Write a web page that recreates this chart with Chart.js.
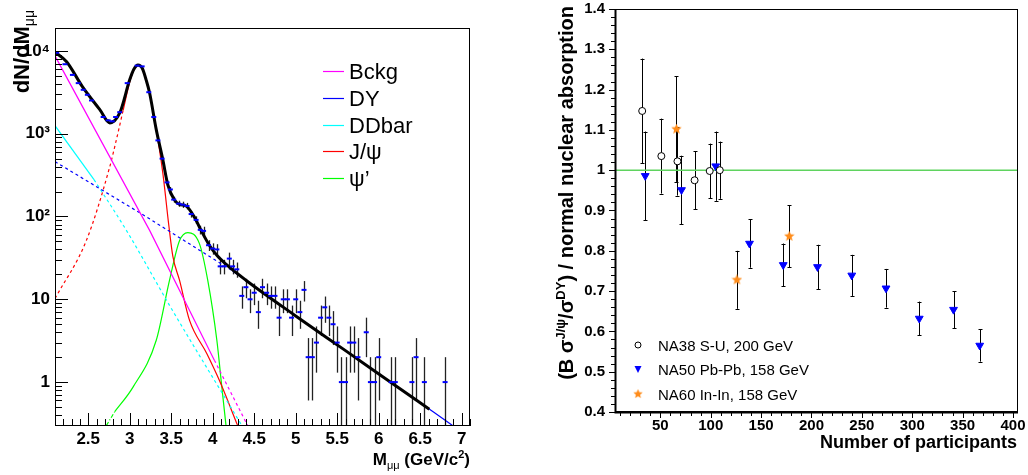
<!DOCTYPE html>
<html>
<head>
<meta charset="utf-8">
<script src="https://cdn.jsdelivr.net/npm/chart.js@4.4.1/dist/chart.umd.min.js"></script>
<style>
  html, body { margin: 0; padding: 0; background: #fff; }
  #wrap { position: relative; width: 1028px; height: 475px; }
  canvas { position: absolute; top: 0; display: block; }
  #massChart { left: 0; }
  #ratioChart { left: 520px; }
</style>
</head>
<body>
<div id="wrap">
  <canvas id="massChart" width="480" height="475"></canvas>
  <canvas id="ratioChart" width="508" height="475"></canvas>
</div>
<script>
// ---------- Left panel: dimuon mass spectrum ----------
const massX = [2.12, 2.22, 2.31, 2.38, 2.44, 2.49, 2.54, 2.68, 2.74, 2.79, 2.83, 2.88,
  2.97, 3.09, 3.15, 3.23, 3.29, 3.34, 3.39, 3.45, 3.49, 3.53, 3.59, 3.64, 3.69, 3.74,
  3.80, 3.85, 3.89, 3.95, 4.00, 4.05, 4.09, 4.14, 4.20, 4.24, 4.29, 4.35, 4.40, 4.45,
  4.50, 4.55, 4.60, 4.65, 4.70, 4.75, 4.80, 4.85, 4.90, 4.95, 5.00, 5.05, 5.10, 5.15,
  5.20, 5.25, 5.30, 5.35, 5.40, 5.45, 5.50, 5.55, 5.60, 5.65, 5.70, 5.75, 5.85, 5.90,
  5.95, 6.00, 6.15, 6.20, 6.40, 6.45, 6.55, 6.80];
const massY = [9500, 6900, 5130, 4080, 3390, 2950, 2520, 1590, 1450, 1410, 1590, 1820,
  4080, 6640, 6500, 3170, 1590, 830, 500, 258, 212, 160, 143, 139, 134, 107,
  91, 69, 67, 45, 41, 40, 25, 25, 31, 25, 23, 11, 14, 10,
  12, 7, 14, 12, 11, 11, 6, 10, 10, 6, 10, 7, 13, 2,
  2, 3, 6, 8, 6, 5, 3, 1, 1, 3, 3, 2, 4, 1,
  1, 2, 1, 1, 1, 2, 1, 1];
const massErr = [97, 83, 72, 64, 58, 54, 50, 40, 38, 38, 40, 43,
  64, 81, 81, 56, 40, 29, 22, 16, 15, 13, 12, 12, 12, 10,
  9.5, 8.3, 8.2, 6.7, 6.4, 6.3, 5, 5, 5.6, 5, 4.8, 3.3, 3.7, 3.2,
  3.5, 2.6, 3.7, 3.5, 3.3, 3.3, 2.4, 3.2, 3.2, 2.4, 3.2, 2.6, 3.6, 1.4,
  1.4, 1.7, 2.4, 2.8, 2.4, 2.2, 1.7, 1, 1, 1.7, 1.7, 1.4, 2, 1,
  1, 1.4, 1, 1, 1, 1.4, 1, 1];

// total fit
const fitX = [2.1, 2.24, 2.43, 2.64, 2.76, 2.88, 3.0, 3.05, 3.10, 3.15, 3.20, 3.24, 3.32,
  3.40, 3.46, 3.54, 3.60, 3.68, 3.78, 3.86, 3.96, 4.05, 4.17, 4.40, 5.0, 5.6,
  6.2, 6.61];
const fitY = [9700, 7400, 3700, 1950, 1350, 1780, 4470, 6000, 6760, 6200, 4400, 3100, 1120,
  480, 240, 158, 140, 134, 98, 68, 45, 34, 26, 17, 6.3, 2.4,
  0.91, 0.47];

// components (solid = fit range, dashed = outside)
const bckgX = [2.1, 3.24, 4.02];      const bckgY = [8700, 68, 1.84];
const bckgOutX = [4.02, 4.42];        const bckgOutY = [1.84, 0.3];
const dyOutX = [2.1, 3.16, 4.24];     const dyOutY = [460, 105, 22];
const dyX = [4.24, 4.40, 5.0, 5.6, 6.2, 6.89]; const dyY = [22, 17, 6.3, 2.4, 0.91, 0.3];
const ddX = [2.1, 2.57];              const ddY = [1250, 279];
const ddOutX = [2.57, 2.96, 3.5, 4.35]; const ddOutY = [279, 68, 7.8, 0.3];
const jpsiOutX = [2.1, 2.48, 2.76, 2.84, 2.92]; const jpsiOutY = [10.2, 52, 400, 850, 1900];
const jpsiX = [2.92, 3.0, 3.05, 3.10, 3.15, 3.20, 3.24, 3.30, 3.40, 3.47, 3.52, 3.60, 3.72, 3.93, 4.08, 4.30];
const jpsiY = [1900, 4200, 5900, 6700, 6100, 4300, 3050, 1480, 330, 80, 33, 17, 5.6, 2.2, 1.05, 0.3];
const psi2OutX = [2.72, 2.82];        const psi2OutY = [0.3, 0.44];
const psi2X = [2.82, 3.04, 3.32, 3.48, 3.60, 3.70, 3.84, 3.94, 4.05, 4.11, 4.16];
const psi2Y = [0.44, 0.87, 3.2, 17, 51, 64, 47, 17, 3.2, 0.87, 0.3];

const massLegend = ["Bckg", "DY", "DDbar", "J/ψ", "ψ’"];
const massColors = ["#ff00ff", "#0000ff", "#00ffff", "#ff0000", "#00ff00"];

const massMajor = [2.5, 3, 3.5, 4, 4.5, 5, 5.5, 6, 6.5, 7];
const massMajorLabels = ["2.5", "3", "3.5", "4", "4.5", "5", "5.5", "6", "6.5", "7"];
const yieldDecades = [1, 10, 100, 1000, 10000];
const yieldDecadeLabels = ["1", "10", "10²", "10³", "10⁴"];

// ---------- Right panel: J/psi suppression ----------
const na38Npart = [32, 51, 67, 84, 99, 109];
const na38Ratio = [1.147, 1.035, 1.022, 0.975, 0.998, 1.0];
const na38Err = [0.13, 0.093, 0.085, 0.072, 0.068, 0.071];
const na50Npart = [35, 71, 105, 138.5, 172, 206, 240, 274, 307, 341, 367];
const na50Ratio = [0.986, 0.951, 1.010, 0.818, 0.765, 0.760, 0.739, 0.707, 0.632, 0.654, 0.565];
const na50Err = [0.11, 0.085, 0.086, 0.06, 0.053, 0.055, 0.051, 0.048, 0.042, 0.046, 0.04];
const na60Npart = [66, 126, 178];
const na60Ratio = [1.102, 0.728, 0.836];
const na60Err = [0.131, 0.072, 0.077];
const refNpart = [5, 405];
const refRatio = [1, 1];

const ratioLegend = ["NA38 S-U, 200 GeV", "NA50 Pb-Pb, 158 GeV", "NA60 In-In, 158 GeV"];
const npartMajor = [50, 100, 150, 200, 250, 300, 350, 400];
const ratioMajor = [0.4, 0.5, 0.6, 0.7, 0.8, 0.9, 1, 1.1, 1.2, 1.3, 1.4];

const FONT = "'Liberation Sans', Arial, Helvetica, sans-serif";
const BLUE = "#0000ff";
const ORANGE = "#ff8c1a";

// ---------- helpers ----------
const near = (list, v) => list.findIndex(m => Math.abs(m - v) < 1e-6);
const xy = (xs, ys) => xs.map((x, i) => ({ x, y: ys[i] }));

function curve(xs, ys, color, extra) {
  return Object.assign({
    data: xy(xs, ys), borderColor: color, borderWidth: 1.2,
    pointRadius: 0, fill: false, tension: 0, order: 2
  }, extra || {});
}

function makeStar(size, color) {
  const c = document.createElement("canvas");
  c.width = c.height = size;
  const g = c.getContext("2d");
  const r = size / 2, ri = r * 0.45;
  g.beginPath();
  for (let k = 0; k < 10; k++) {
    const rad = k % 2 ? ri : r;
    const a = -Math.PI / 2 + k * Math.PI / 5;
    g.lineTo(r + rad * Math.cos(a), r + rad * Math.sin(a));
  }
  g.closePath();
  g.fillStyle = color;
  g.fill();
  return c;
}
const starImg = makeStar(11, ORANGE);

function drawParts(ctx, parts, x, y, align) {
  let w = 0;
  parts.forEach(p => { ctx.font = p.font; w += ctx.measureText(p.t).width; });
  let cx = align === "right" ? x - w : x;
  parts.forEach(p => {
    ctx.font = p.font;
    ctx.fillText(p.t, cx, y + (p.dy || 0));
    cx += ctx.measureText(p.t).width;
  });
  return w;
}

// no extra label padding: the chart area is set by layout.padding + afterFit
function fixBox(size, key) {
  return s => {
    s[key] = size;
    s.paddingTop = 0; s.paddingBottom = 0; s.paddingLeft = 0; s.paddingRight = 0;
  };
}

// error bars under the markers
const errorBars = {
  id: "errorBars",
  beforeDatasetsDraw(chart) {
    const { ctx, chartArea: a, scales: { x, y } } = chart;
    ctx.save();
    ctx.beginPath();
    ctx.rect(a.left, a.top, a.width, a.height);
    ctx.clip();
    chart.data.datasets.forEach(ds => {
      if (!ds.errors) return;
      ctx.strokeStyle = ds.errorColor || "#000";
      ctx.lineWidth = ds.errorWidth || 1;
      ds.data.forEach((p, j) => {
        const e = ds.errors[j];
        const px = Math.round(x.getPixelForValue(p.x)) + 0.5;
        const top = y.getPixelForValue(Math.min(p.y + e, y.max));
        const bot = y.getPixelForValue(Math.max(p.y - e, y.min));
        ctx.beginPath();
        ctx.moveTo(px, top);
        ctx.lineTo(px, bot);
        if (ds.errorCap) {
          ctx.moveTo(px - ds.errorCap, Math.round(top) + 0.5);
          ctx.lineTo(px + ds.errorCap, Math.round(top) + 0.5);
          ctx.moveTo(px - ds.errorCap, Math.round(bot) + 0.5);
          ctx.lineTo(px + ds.errorCap, Math.round(bot) + 0.5);
        }
        ctx.stroke();
      });
    });
    ctx.restore();
  }
};

// frame + tick marks (ROOT style)
function frameTicks(cfg) {
  return {
    id: "frameTicks",
    afterDatasetsDraw(chart) {
      const { ctx, chartArea: a, scales: { x, y } } = chart;
      ctx.save();
      ctx.strokeStyle = "#000";
      ctx.lineWidth = 1;
      ctx.strokeRect(a.left + 0.5, a.top + 0.5, a.width - 1, a.height - 1);
      if (cfg.axisWidth > 1) {
        ctx.lineWidth = cfg.axisWidth;
        ctx.beginPath();
        ctx.moveTo(a.left + 0.5, a.top);
        ctx.lineTo(a.left + 0.5, a.bottom + 0.5);
        ctx.lineTo(a.right, a.bottom + 0.5);
        ctx.stroke();
      }
      ctx.lineWidth = 1;
      const dir = cfg.inward ? 1 : -1;
      x.ticks.forEach(t => {
        const px = Math.round(x.getPixelForValue(t.value)) + 0.5;
        const len = near(cfg.xMajor, t.value) >= 0 ? cfg.major : cfg.minor;
        ctx.beginPath();
        ctx.moveTo(px, a.bottom);
        ctx.lineTo(px, a.bottom - dir * len);
        ctx.stroke();
      });
      y.ticks.forEach(t => {
        const py = Math.round(y.getPixelForValue(t.value)) + 0.5;
        const len = near(cfg.yMajor, t.value) >= 0 ? cfg.major : cfg.minor;
        ctx.beginPath();
        ctx.moveTo(a.left, py);
        ctx.lineTo(a.left + dir * len, py);
        ctx.stroke();
      });
      ctx.restore();
    }
  };
}

// ---------- left chart ----------
const massTicks = [];
for (let i = 21; i <= 71; i++) massTicks.push(i / 10);
const yieldTicks = [];
[0.1, 1, 10, 100, 1000, 10000].forEach(d => {
  for (let k = 1; k <= 9; k++) {
    const v = d * k;
    if (v >= 0.295 && v <= 18900) yieldTicks.push(v);
  }
});

const massText = {
  id: "massText",
  afterDraw(chart) {
    const ctx = chart.ctx;
    ctx.save();
    ctx.fillStyle = "#000";
    ctx.textBaseline = "alphabetic";
    ctx.textAlign = "left";
    // x title
    drawParts(ctx, [
      { t: "M", font: `bold 17px ${FONT}` },
      { t: "μμ", font: `11px ${FONT}`, dy: 4 },
      { t: " (GeV/c", font: `bold 17px ${FONT}` },
      { t: "2", font: `bold 11px ${FONT}`, dy: -7 },
      { t: ")", font: `bold 17px ${FONT}` }
    ], 470, 465, "right");
    // y title
    ctx.save();
    ctx.translate(29, 10);
    ctx.rotate(-Math.PI / 2);
    drawParts(ctx, [
      { t: "dN/dM", font: `bold 22px ${FONT}` },
      { t: "μμ", font: `14px ${FONT}`, dy: 5 }
    ], 0, 0, "right");
    ctx.restore();
    // legend
    ctx.font = `22px ${FONT}`;
    massLegend.forEach((name, i) => {
      const yy = 71 + i * 26.8;
      ctx.strokeStyle = massColors[i];
      ctx.lineWidth = 1.2;
      ctx.beginPath();
      ctx.moveTo(323, Math.round(yy) + 0.5);
      ctx.lineTo(344, Math.round(yy) + 0.5);
      ctx.stroke();
      ctx.fillText(name, 349, yy + 8);
    });
    ctx.restore();
  }
};

new Chart(document.getElementById("massChart"), {
  type: "line",
  data: {
    datasets: [
      {
        data: xy(massX, massY), errors: massErr, errorColor: "#222", errorWidth: 1.3,
        showLine: false, pointStyle: "line", pointRadius: 2.5,
        pointBorderColor: BLUE, pointBorderWidth: 2, order: 0
      },
      curve(fitX, fitY, "#000", { borderWidth: 3, cubicInterpolationMode: "monotone", order: 1 }),
      curve(bckgX, bckgY, massColors[0]),
      curve(bckgOutX, bckgOutY, massColors[0], { borderDash: [3, 3] }),
      curve(dyOutX, dyOutY, massColors[1], { borderDash: [3, 3] }),
      curve(dyX, dyY, massColors[1], { cubicInterpolationMode: "monotone" }),
      curve(ddX, ddY, massColors[2]),
      curve(ddOutX, ddOutY, massColors[2], { borderDash: [3, 3], cubicInterpolationMode: "monotone" }),
      curve(jpsiOutX, jpsiOutY, massColors[3], { borderDash: [3, 3], cubicInterpolationMode: "monotone" }),
      curve(jpsiX, jpsiY, massColors[3], { cubicInterpolationMode: "monotone" }),
      curve(psi2OutX, psi2OutY, massColors[4], { borderDash: [4, 2, 1, 2] }),
      curve(psi2X, psi2Y, massColors[4], { cubicInterpolationMode: "monotone" })
    ]
  },
  options: {
    responsive: false,
    animation: false,
    events: [],
    layout: { padding: { top: 28, right: 10, left: 0, bottom: 0 } },
    plugins: { legend: { display: false }, tooltip: { enabled: false } },
    scales: {
      x: {
        type: "linear", min: 2.1, max: 7.1,
        grid: { display: false, drawTicks: false }, border: { display: false },
        afterBuildTicks: s => { s.ticks = massTicks.map(v => ({ value: v })); },
        afterFit: fixBox(49, "height"),
        ticks: {
          autoSkip: false, maxRotation: 0, padding: 3, color: "#000",
          font: { family: FONT, size: 17, weight: "bold" },
          callback: v => { const i = near(massMajor, v); return i >= 0 ? massMajorLabels[i] : ""; }
        }
      },
      y: {
        type: "logarithmic", min: 0.295, max: 18900,
        grid: { display: false, drawTicks: false }, border: { display: false },
        afterBuildTicks: s => { s.ticks = yieldTicks.map(v => ({ value: v })); },
        afterFit: fixBox(55, "width"),
        ticks: {
          autoSkip: false, padding: 5, color: "#000",
          font: { family: FONT, size: 17, weight: "bold" },
          callback: v => {
            const i = yieldDecades.findIndex(d => Math.abs(d - v) / d < 1e-6);
            return i >= 0 ? yieldDecadeLabels[i] : "";
          }
        }
      }
    }
  },
  plugins: [errorBars, frameTicks({ inward: true, major: 13, minor: 7, xMajor: massMajor, yMajor: yieldDecades }), massText]
});

// ---------- right chart ----------
const npartTicks = [];
for (let v = 10; v <= 400; v += 10) npartTicks.push(v);
const ratioTicks = [];
for (let i = 20; i <= 70; i++) ratioTicks.push(i / 50);

const ratioText = {
  id: "ratioText",
  afterDraw(chart) {
    const ctx = chart.ctx;
    ctx.save();
    ctx.fillStyle = "#000";
    ctx.textBaseline = "alphabetic";
    ctx.textAlign = "left";
    // x title
    ctx.font = `bold 18px ${FONT}`;
    ctx.textAlign = "right";
    ctx.fillText("Number of participants", 497, 448);
    ctx.textAlign = "left";
    // y title
    ctx.save();
    ctx.translate(53, 6);
    ctx.rotate(-Math.PI / 2);
    drawParts(ctx, [
      { t: "(B σ", font: `bold 20px ${FONT}` },
      { t: "J/ψ", font: `bold 13px ${FONT}`, dy: -8 },
      { t: "/σ", font: `bold 20px ${FONT}` },
      { t: "DY", font: `bold 13px ${FONT}`, dy: -8 },
      { t: ") / normal nuclear absorption", font: `bold 20px ${FONT}` }
    ], 0, 0, "right");
    ctx.restore();
    // legend
    const mx = 118;
    const rows = [345, 369, 394];
    ctx.font = `15px ${FONT}`;
    ratioLegend.forEach((name, i) => ctx.fillText(name, 138, rows[i] + 5.5));
    ctx.strokeStyle = "#000";
    ctx.lineWidth = 1;
    ctx.beginPath();
    ctx.arc(mx, rows[0], 3, 0, Math.PI * 2);
    ctx.stroke();
    ctx.fillStyle = BLUE;
    ctx.beginPath();
    ctx.moveTo(mx - 3.5, rows[1] - 3);
    ctx.lineTo(mx + 3.5, rows[1] - 3);
    ctx.lineTo(mx, rows[1] + 4);
    ctx.closePath();
    ctx.fill();
    ctx.drawImage(starImg, mx - 5, rows[2] - 5, 10, 10);
    ctx.restore();
  }
};

new Chart(document.getElementById("ratioChart"), {
  type: "line",
  data: {
    datasets: [
      {
        data: xy(na38Npart, na38Ratio), errors: na38Err, errorCap: 2,
        showLine: false, pointStyle: "circle", pointRadius: 3.5,
        pointBorderColor: "#000", pointBackgroundColor: "#fff", pointBorderWidth: 1, order: 0
      },
      {
        data: xy(na50Npart, na50Ratio), errors: na50Err, errorCap: 2,
        showLine: false, pointStyle: "triangle", pointRotation: 180, pointRadius: 4.5,
        pointBorderColor: BLUE, pointBackgroundColor: BLUE, pointBorderWidth: 1, order: 0
      },
      {
        data: xy(na60Npart, na60Ratio), errors: na60Err, errorCap: 2,
        showLine: false, pointStyle: starImg, pointRadius: 5, order: 0
      },
      curve(refNpart, refRatio, "#5fd35f", { borderWidth: 1.5, order: 3 })
    ]
  },
  options: {
    responsive: false,
    animation: false,
    events: [],
    layout: { padding: { top: 9, right: 10, left: 0, bottom: 0 } },
    plugins: { legend: { display: false }, tooltip: { enabled: false } },
    scales: {
      x: {
        type: "linear", min: 5, max: 405,
        grid: { display: false, drawTicks: false }, border: { display: false },
        afterBuildTicks: s => { s.ticks = npartTicks.map(v => ({ value: v })); },
        afterFit: fixBox(63, "height"),
        ticks: {
          autoSkip: false, maxRotation: 0, padding: 5, color: "#000",
          font: { family: FONT, size: 15, weight: "bold" },
          callback: v => (near(npartMajor, v) >= 0 ? String(v) : "")
        }
      },
      y: {
        type: "linear", min: 0.4, max: 1.4,
        grid: { display: false, drawTicks: false }, border: { display: false },
        afterBuildTicks: s => { s.ticks = ratioTicks.map(v => ({ value: v })); },
        afterFit: fixBox(95, "width"),
        ticks: {
          autoSkip: false, padding: 10, color: "#000",
          font: { family: FONT, size: 15, weight: "bold" },
          callback: v => (near(ratioMajor, v) >= 0 ? String(Math.round(v * 10) / 10) : "")
        }
      }
    }
  },
  plugins: [errorBars, frameTicks({ inward: false, axisWidth: 2, major: 6, minor: 4, xMajor: npartMajor, yMajor: ratioMajor }), ratioText]
});
</script>
</body>
</html>
